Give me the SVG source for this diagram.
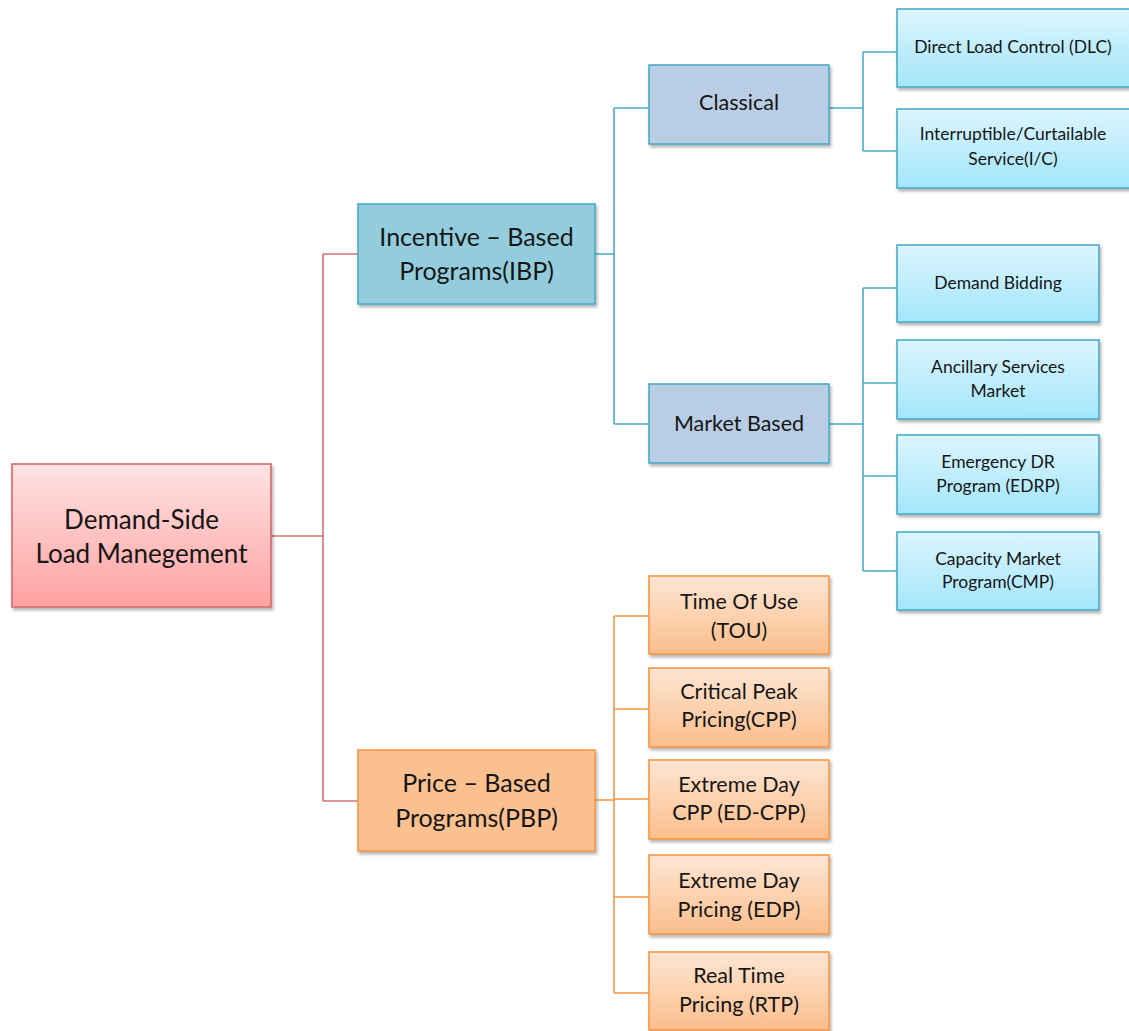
<svg xmlns="http://www.w3.org/2000/svg" width="1129" height="1031" viewBox="0 0 1129 1031">
<style>
text{font-family:Lato,"Open Sans","Liberation Sans",sans-serif;fill:#161616;text-anchor:middle}
.box{stroke-width:1.6}
.root{fill:url(#gRoot);stroke:#d46a6a}
.ibp{fill:#93cddd;stroke:#4bacc6}
.mid{fill:#b9cde5;stroke:#4bacc6}
.cy{fill:url(#gCyan);stroke:#4bacc6}
.pbp{fill:#fac090;stroke:#f79646}
.or{fill:url(#gOrange);stroke:#f79646}
.c-red{stroke:#d07474;stroke-width:1.6;fill:none}
.c-blue{stroke:#4bacc6;stroke-width:1.6;fill:none}
.c-or{stroke:#f79646;stroke-width:1.6;fill:none}
.f26{font-size:26px}
.f25{font-size:25px}
.f21{font-size:21.5px}
.f17{font-size:17.5px}
</style>
<defs>
<linearGradient id="gRoot" x1="0" y1="0" x2="0" y2="1"><stop offset="0" stop-color="#ffe3e3"/><stop offset="1" stop-color="#ffa2a2"/></linearGradient>
<linearGradient id="gCyan" x1="0" y1="0" x2="0" y2="1"><stop offset="0" stop-color="#dcf5fd"/><stop offset="1" stop-color="#a3e6fa"/></linearGradient>
<linearGradient id="gOrange" x1="0" y1="0" x2="0" y2="1"><stop offset="0" stop-color="#fde6d4"/><stop offset="1" stop-color="#fbbe8c"/></linearGradient>
<filter id="sh" x="-10%" y="-10%" width="130%" height="140%"><feDropShadow dx="1.5" dy="2.5" stdDeviation="1.5" flood-color="#000" flood-opacity="0.3"/></filter>
</defs>
<rect width="1129" height="1031" fill="#fff"/>
<g id="connectors">
<path class="c-red" d="M271,536 H323 M323,254 V801 M323,254 H358 M323,801 H358"/>
<path class="c-blue" d="M595,254 H614 M614,108 V424 M614,108 H649 M614,424 H649"/>
<path class="c-blue" d="M829,108 H863 M863,52 V151 M863,52 H897 M863,151 H897"/>
<path class="c-blue" d="M829,424 H863 M863,288 V571 M863,288 H897 M863,383 H897 M863,476 H897 M863,571 H897"/>
<path class="c-or" d="M595,800 H614 M614,616 V993 M614,616 H649 M614,709 H649 M614,799 H649 M614,897 H649 M614,993 H649"/>
</g>
<g id="root"><rect class="box root" filter="url(#sh)" x="12" y="464" width="259" height="143"/><text class="f26" x="141.5" y="529">Demand-Side</text><text class="f26" x="141.5" y="563">Load Manegement</text></g>
<g id="ibp"><rect class="box ibp" filter="url(#sh)" x="358" y="204" width="237" height="100"/><text class="f25" x="476.5" y="246">Incentive – Based</text><text class="f25" x="476.5" y="280">Programs(IBP)</text></g>
<g id="classical"><rect class="box mid" filter="url(#sh)" x="649" y="65" width="180" height="79"/><text class="f21" x="739" y="110">Classical</text></g>
<g id="market"><rect class="box mid" filter="url(#sh)" x="649" y="384" width="180" height="79"/><text class="f21" x="739" y="431">Market Based</text></g>
<g id="dlc"><rect class="box cy" filter="url(#sh)" x="897" y="9" width="235" height="78"/><text class="f17" x="1013" y="53">Direct Load Control (DLC)</text></g>
<g id="ic"><rect class="box cy" filter="url(#sh)" x="897" y="109" width="235" height="79"/><text class="f17" x="1013" y="140">Interruptible/Curtailable</text><text class="f17" x="1013" y="165">Service(I/C)</text></g>
<g id="bidding"><rect class="box cy" filter="url(#sh)" x="897" y="245" width="202" height="77"/><text class="f17" x="998" y="289">Demand Bidding</text></g>
<g id="ancillary"><rect class="box cy" filter="url(#sh)" x="897" y="340" width="202" height="79"/><text class="f17" x="998" y="373">Ancillary Services</text><text class="f17" x="998" y="397">Market</text></g>
<g id="edrp"><rect class="box cy" filter="url(#sh)" x="897" y="435" width="202" height="79"/><text class="f17" x="998" y="468">Emergency DR</text><text class="f17" x="998" y="492">Program (EDRP)</text></g>
<g id="cmp"><rect class="box cy" filter="url(#sh)" x="897" y="532" width="202" height="78"/><text class="f17" x="998" y="565">Capacity Market</text><text class="f17" x="998" y="588">Program(CMP)</text></g>
<g id="pbp"><rect class="box pbp" filter="url(#sh)" x="358" y="750" width="237" height="101"/><text class="f25" x="476.5" y="792">Price – Based</text><text class="f25" x="476.5" y="827">Programs(PBP)</text></g>
<g id="tou"><rect class="box or" filter="url(#sh)" x="649" y="576" width="180" height="78"/><text class="f21" x="739" y="609">Time Of Use</text><text class="f21" x="739" y="638">(TOU)</text></g>
<g id="cpp"><rect class="box or" filter="url(#sh)" x="649" y="668" width="180" height="79"/><text class="f21" x="739" y="699">Critical Peak</text><text class="f21" x="739" y="727">Pricing(CPP)</text></g>
<g id="edcpp"><rect class="box or" filter="url(#sh)" x="649" y="760" width="180" height="79"/><text class="f21" x="739" y="792">Extreme Day</text><text class="f21" x="739" y="820">CPP (ED-CPP)</text></g>
<g id="edp"><rect class="box or" filter="url(#sh)" x="649" y="855" width="180" height="79"/><text class="f21" x="739" y="888">Extreme Day</text><text class="f21" x="739" y="917">Pricing (EDP)</text></g>
<g id="rtp"><rect class="box or" filter="url(#sh)" x="649" y="952" width="180" height="78"/><text class="f21" x="739" y="983">Real Time</text><text class="f21" x="739" y="1012">Pricing (RTP)</text></g>
</svg>
